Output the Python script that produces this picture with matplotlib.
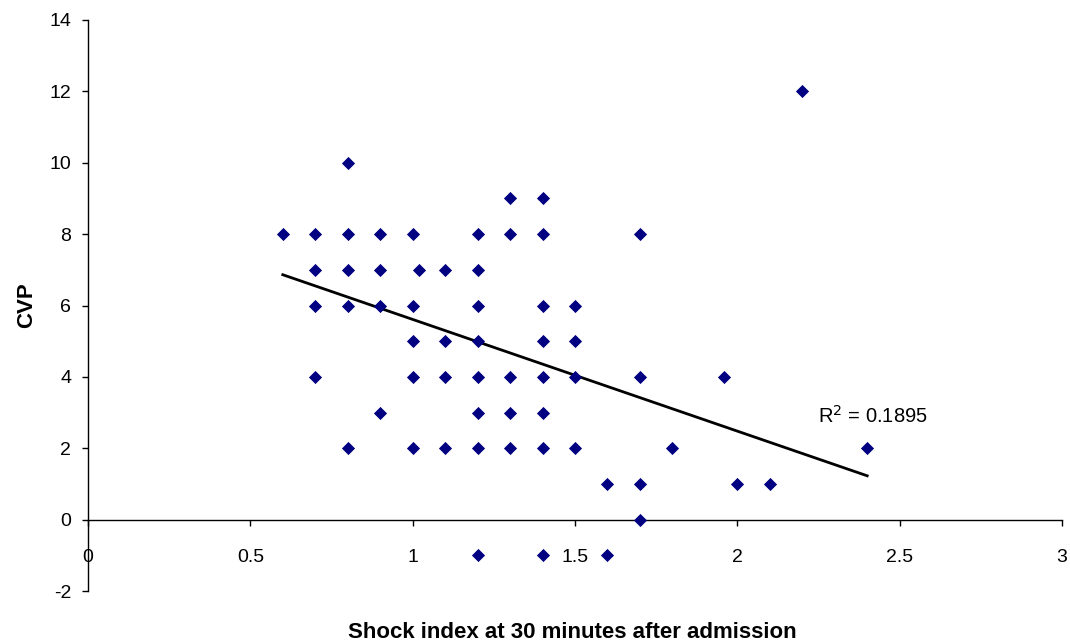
import matplotlib
matplotlib.use("Agg")
import matplotlib.pyplot as plt
import numpy as np

plt.rcParams['font.family'] = ['Liberation Sans', 'DejaVu Sans']
plt.rcParams['axes.unicode_minus'] = False

# Shock index (x) and CVP (y) values
shock_index = [0.6,
               0.7, 0.7, 0.7, 0.7,
               0.8, 0.8, 0.8, 0.8, 0.8,
               0.9, 0.9, 0.9, 0.9,
               1.0, 1.0, 1.0, 1.0, 1.0,
               1.02,
               1.1, 1.1, 1.1, 1.1,
               1.2, 1.2, 1.2, 1.2, 1.2, 1.2, 1.2, 1.2,
               1.3, 1.3, 1.3, 1.3, 1.3,
               1.4, 1.4, 1.4, 1.4, 1.4, 1.4, 1.4, 1.4,
               1.5, 1.5, 1.5, 1.5,
               1.6, 1.6,
               1.7, 1.7, 1.7, 1.7,
               1.8, 1.96, 2.0, 2.1, 2.2, 2.4]
cvp = [8,
       8, 7, 6, 4,
       10, 8, 7, 6, 2,
       8, 7, 6, 3,
       8, 6, 5, 4, 2,
       7,
       7, 5, 4, 2,
       8, 7, 6, 5, 4, 3, 2, -1,
       9, 8, 4, 3, 2,
       9, 8, 6, 5, 4, 3, 2, -1,
       6, 5, 4, 2,
       1, -1,
       8, 4, 1, 0,
       2, 4, 1, 1, 12, 2]

# Linear trendline as shown in the chart
trend_slope = -3.13
trend_intercept = 8.74
r_squared_text = "R$^2$ = 0.1895"

x_ticks = [0, 0.5, 1, 1.5, 2, 2.5, 3]
x_tick_labels = ["0", "0.5", "1", "1.5", "2", "2.5", "3"]
y_ticks = [-2, 0, 2, 4, 6, 8, 10, 12, 14]

fig = plt.figure(figsize=(10.7, 6.43), dpi=100)
ax = fig.add_axes([88/1070, 1 - 591/643, (1062-88)/1070, (591-20)/643])

ax.scatter(shock_index, cvp, marker='D', s=45, color='#000080', zorder=3, linewidths=0)

xs = np.array([min(shock_index), max(shock_index)])
ax.plot(xs, trend_slope * xs + trend_intercept, color='black', linewidth=2, zorder=2)

ax.text(2.25, 2.72, r_squared_text, fontsize=14.5, ha='left', va='baseline')

ax.set_xlim(0, 3)
ax.set_ylim(-2, 14)
ax.spines['top'].set_visible(False)
ax.spines['right'].set_visible(False)
ax.spines['bottom'].set_position(('data', 0))
ax.spines['bottom'].set_linewidth(1)
ax.spines['left'].set_linewidth(1)

ax.set_xticks(x_ticks)
ax.set_xticklabels(x_tick_labels)
ax.set_yticks(y_ticks)
ax.tick_params(axis='x', direction='out', length=4, width=1, pad=17, labelsize=14)
ax.tick_params(axis='y', direction='out', length=4, width=1, pad=8, labelsize=14)

fig.text(572/1070, 1 - 633/643, "Shock index at 30 minutes after admission",
         ha='center', va='center', fontsize=16, fontweight='bold')
fig.text(27/1070, 1 - 305/643, "CVP", ha='center', va='center', rotation=90,
         fontsize=16, fontweight='bold')

fig.savefig("out.png", dpi=100)
